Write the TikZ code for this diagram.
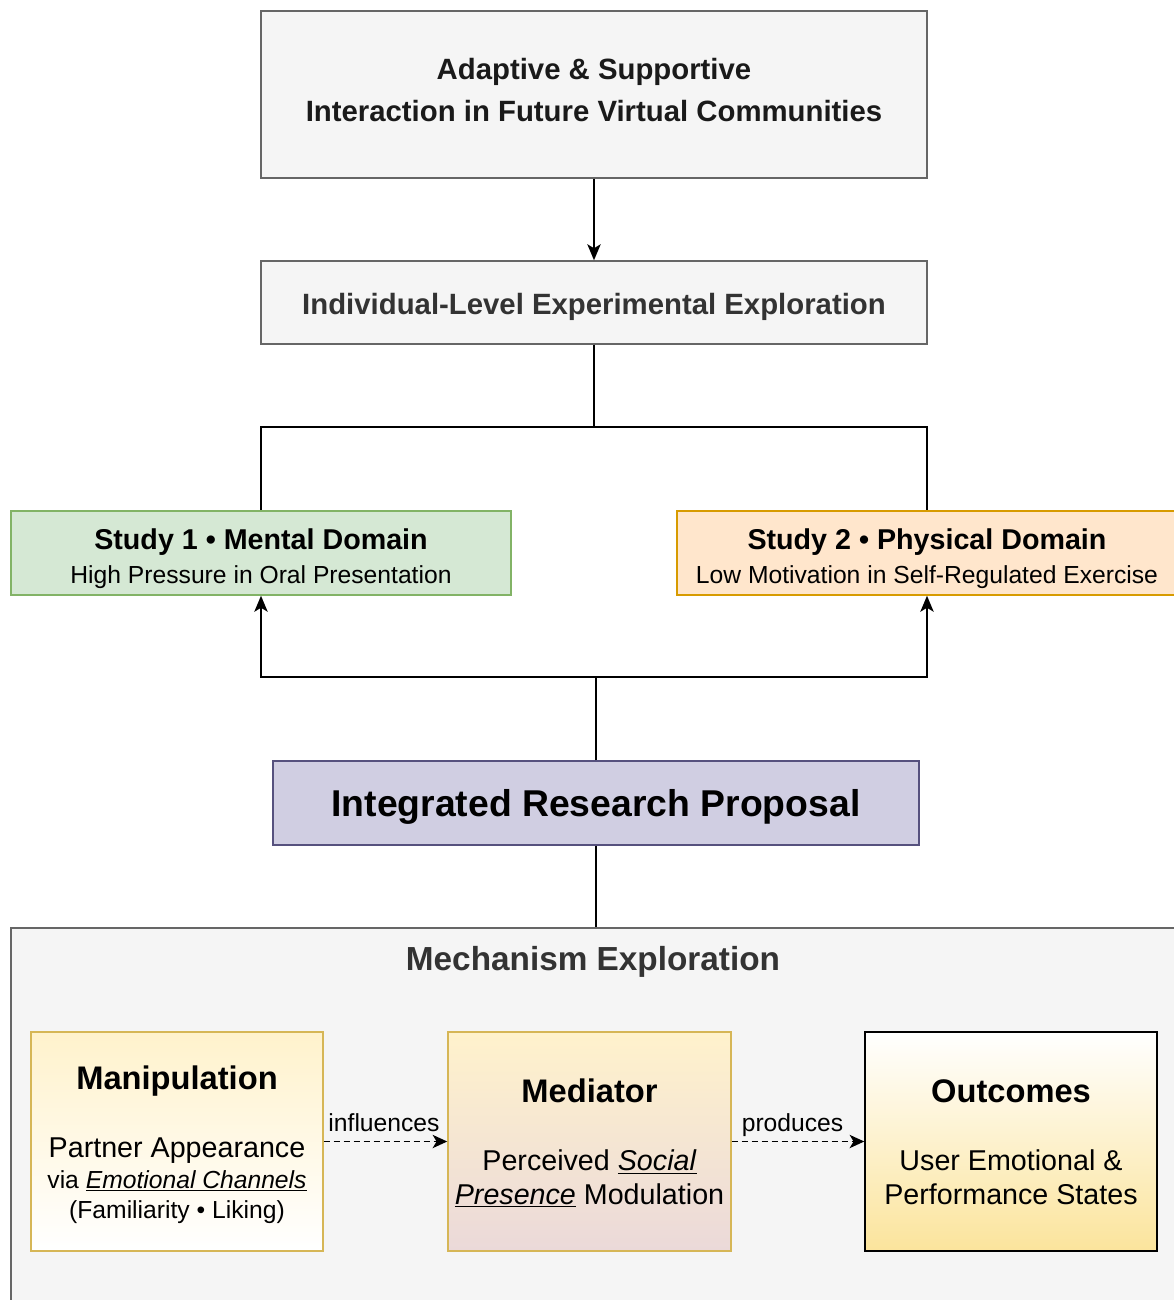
\documentclass[tikz,border=0pt]{standalone}
\usepackage{fontspec}
\setmainfont{Liberation Sans}
\usetikzlibrary{arrows.meta}

\definecolor{greyfill}{HTML}{F5F5F5}
\definecolor{greyline}{HTML}{666666}
\definecolor{greentext}{HTML}{1A1A1A}
\definecolor{darktext}{HTML}{333333}
\definecolor{greenfill}{HTML}{D5E8D4}
\definecolor{greenline}{HTML}{82B366}
\definecolor{orangefill}{HTML}{FFE6CC}
\definecolor{orangeline}{HTML}{D79B00}
\definecolor{purplefill}{HTML}{D0CEE2}
\definecolor{purpleline}{HTML}{56517E}
\definecolor{yellowfill}{HTML}{FFF2CC}
\definecolor{yellowline}{HTML}{D6B656}
\definecolor{pinkfill}{HTML}{EBD9D9}
\definecolor{goldfill}{HTML}{FBE49C}

\tikzset{
	box/.style={draw=greyline, fill=greyfill, line width=1.1pt, inner sep=0pt, align=center, text depth=0pt},
	studybox/.style={box, minimum width=375pt, minimum height=63pt, text height=45pt, font=\fontsize{21.5}{25}\selectfont},
	mechbox/.style={box, minimum width=219pt, minimum height=164.25pt, text height=94pt, font=\fontsize{24.5}{25}\selectfont},
	link/.style={line width=1.4pt},
	arrow/.style={link, -{Stealth[length=12pt, width=10pt, inset=3pt]}},
	dasharrow/.style={line width=1.1pt, dash pattern=on 4.5pt off 3pt, -{Stealth[length=11pt, width=10pt, inset=3pt]}},
	sublabel/.style={font=\fontsize{18.5}{20}\selectfont, inner sep=0pt, anchor=base west, yshift=7.5pt}
}

\begin{document}
\begin{tikzpicture}[x=0.75pt, y=-0.75pt]
	\useasboundingbox (0,0) rectangle (1174,1300);
	\clip (0,0) rectangle (1174,1300);

	% upper part
	\node[box, minimum width=499.5pt, minimum height=125.25pt, text height=41pt, text=greentext, font=\fontsize{22}{32}\selectfont\bfseries] (goal) at (594,94.5) {Adaptive \& Supportive\\Interaction in Future Virtual Communities};
	\node[box, minimum width=499.5pt, minimum height=62.25pt, text height=18pt, text=darktext, font=\fontsize{22}{24}\selectfont\bfseries] (explore) at (594,302.5) {Individual-Level Experimental Exploration};

	\node[studybox, fill=greenfill, draw=greenline] (study1) at (261,553) {\textbf{Study 1 \textbullet\ Mental Domain}\\{\fontsize{18.5}{25}\selectfont High Pressure in Oral Presentation}};
	\node[studybox, fill=orangefill, draw=orangeline] (study2) at (927,553) {\textbf{Study 2 \textbullet\ Physical Domain}\\{\fontsize{18.5}{25}\selectfont Low Motivation in Self-Regulated Exercise}};

	\node[box, fill=purplefill, draw=purpleline, minimum width=484.5pt, minimum height=63pt, text height=20pt, font=\fontsize{28}{30}\selectfont\bfseries] (proposal) at (596,803) {Integrated Research Proposal};

	\coordinate (split) at (594,427);
	\coordinate (join) at (596,677);

	\draw[arrow] (goal) -- (explore);
	\draw[link] (explore.south) -- (split);
	\foreach \s in {study1, study2}
	{
		\draw[link] (split) -| (\s.north);
		\draw[arrow] (join) -| (\s.south);
	}
	\draw[link] (proposal.north) -- (join);

	% mechanism part
	\node[box, minimum width=880.5pt, minimum height=286.5pt] (mech) at (598,1119) {};
	\node[text=darktext, font=\fontsize{25}{27}\selectfont\bfseries] (mechtitle) at (593,962) {Mechanism Exploration};
	\draw[link] (proposal.south) -- (proposal.south |- mech.north);

	\node[mechbox, text height=116pt, font=\fontsize{24.5}{23}\selectfont, draw=yellowline, top color=yellowfill, bottom color=white] (manip) at (177,1141.5) {\textbf{Manipulation}\\[28pt]{\fontsize{21.5}{23}\selectfont Partner Appearance}\\{\fontsize{18.5}{23}\selectfont via \underline{\textit{Emotional Channels}}}\\{\fontsize{18.5}{23}\selectfont (Familiarity \textbullet\ Liking)}};
	\node[mechbox, minimum width=212.25pt, draw=yellowline, top color=yellowfill, bottom color=pinkfill] (mediator) at (589.5,1141.5) {\textbf{Mediator}\\[26pt]{\fontsize{21.5}{25}\selectfont Perceived \underline{\textit{Social}}}\\{\fontsize{21.5}{25}\selectfont\underline{\textit{Presence}} Modulation}};
	\node[mechbox, draw=black, top color=white, bottom color=goldfill] (outcome) at (1011,1141.5) {\textbf{Outcomes}\\[26pt]{\fontsize{21.5}{25}\selectfont User Emotional \&}\\{\fontsize{21.5}{25}\selectfont Performance States}};

	\draw[dasharrow] (manip) -- node[sublabel, pos=0, xshift=3pt] {influences} (mediator);
	\draw[dasharrow] (mediator) -- node[sublabel, pos=0, xshift=7pt] {produces} (outcome);

\end{tikzpicture}
\end{document}
